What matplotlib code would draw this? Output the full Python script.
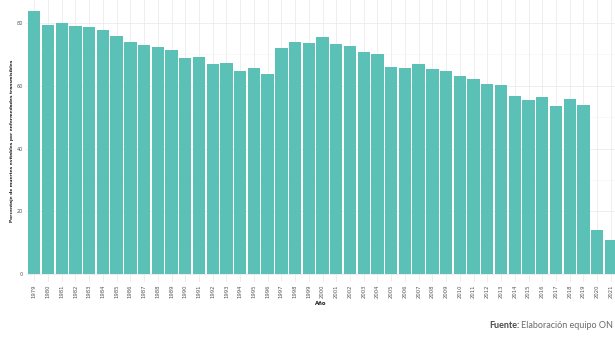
import matplotlib
matplotlib.use("Agg")
import matplotlib.pyplot as plt
from matplotlib.ticker import MultipleLocator
import numpy as np

YEARS = list(range(1979, 2022))

# porcentaje de muertes evitables por enfermedades transmisibles
PERCENT = [83.9, 79.2, 80.0, 78.9, 78.6, 77.7, 75.7, 73.8, 73.1, 72.3,
           71.4, 68.9, 69.0, 66.9, 67.1, 64.6, 65.5, 63.7, 72.1, 73.8,
           73.7, 75.6, 73.2, 72.8, 70.6, 70.2, 66.0, 65.7, 66.8, 65.4,
           64.6, 63.1, 62.2, 60.5, 60.1, 56.7, 55.4, 56.5, 53.5, 55.7,
           53.8, 14.0, 10.8]

Y_TICKS = [0, 20, 40, 60, 80]

BAR_COLOR = "#5bc0b5"
GRID_MAJOR = "#ebebeb"
GRID_MINOR = "#f4f4f4"

W, H = 615, 337
fig = plt.figure(figsize=(W / 100, H / 100), dpi=100)
ax = fig.add_axes([26 / W, (H - 282) / H, 1 - 26 / W, 282 / H])

x = np.arange(len(YEARS))
ax.bar(x, PERCENT, width=0.9, color=BAR_COLOR, zorder=2)

ax.set_xlim(-0.6, 42.3)
ax.set_ylim(-2.5, 87.3)
ax.set_xticks(x)
ax.set_xticklabels([str(y) for y in YEARS], rotation=90, fontsize=3.8, color="#555555")
ax.set_yticks(Y_TICKS)
ax.set_yticklabels([str(v) for v in Y_TICKS], fontsize=3.6, color="#555555")
ax.yaxis.set_minor_locator(MultipleLocator(10))
ax.tick_params(axis="both", which="both", length=0)
ax.tick_params(axis="x", pad=2)
ax.tick_params(axis="y", pad=2)

ax.grid(which="major", color=GRID_MAJOR, linewidth=0.6, zorder=0)
ax.grid(which="minor", axis="y", color=GRID_MINOR, linewidth=0.4, zorder=0)
ax.set_axisbelow(True)
for s in ax.spines.values():
    s.set_visible(False)

ax.set_ylabel("Porcentaje de muertes evitables por enfermedades transmisibles",
              fontsize=3.2, fontweight="bold", color="#222222", labelpad=2)
ax.set_xlabel("Año", fontsize=3.8, fontweight="bold", color="#222222", labelpad=2)

fig.text(489 / W, (H - 326) / H, "Fuente:", family="Lato", fontweight="bold",
         fontsize=6.5, color="#4a4a4a", va="center", ha="left")
fig.text(521 / W, (H - 326) / H, "Elaboración equipo ON", family="Lato",
         fontsize=6.5, color="#6a6a6a", va="center", ha="left")

fig.savefig("out.png", dpi=100)
